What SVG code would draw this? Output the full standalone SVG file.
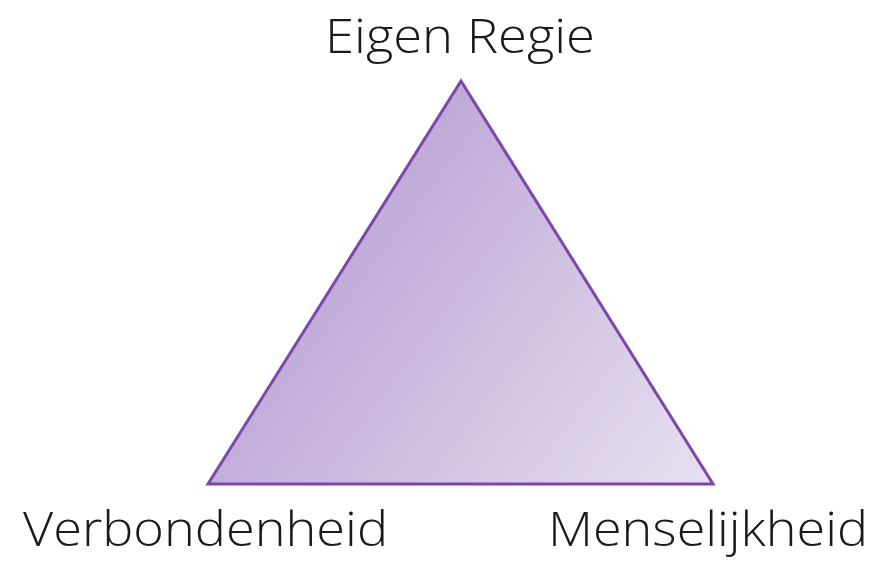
<svg xmlns="http://www.w3.org/2000/svg" width="889" height="562" viewBox="0 0 889 562">
  <defs>
    <linearGradient id="fillGrad" gradientUnits="userSpaceOnUse" x1="300" y1="180" x2="713" y2="484">
      <stop offset="0" stop-color="#b9a1d5"/>
      <stop offset="1" stop-color="#e7e0f0"/>
    </linearGradient>
    <style>
      .lbl { font-family: "Open Sans", "Noto Sans", "DejaVu Sans", sans-serif; font-size: 48px; font-weight: 300; fill: #1a1a1a; }
      .tri { fill: url(#fillGrad); stroke: #7c47a8; stroke-width: 3; stroke-linejoin: miter; }
    </style>
  </defs>
  <rect width="889" height="562" fill="#ffffff"/>
  <g id="connectors">
    <polygon id="triangle" class="tri" points="461,81 208,484 713,484"/>
  </g>
  <g id="node-eigen-regie">
    <text class="lbl" x="325" y="53" textLength="270" lengthAdjust="spacingAndGlyphs">Eigen Regie</text>
  </g>
  <g id="node-verbondenheid">
    <text class="lbl" x="23" y="546" textLength="365" lengthAdjust="spacingAndGlyphs">Verbondenheid</text>
  </g>
  <g id="node-menselijkheid">
    <text class="lbl" x="548" y="546" textLength="320" lengthAdjust="spacingAndGlyphs">Menselijkheid</text>
  </g>
</svg>
